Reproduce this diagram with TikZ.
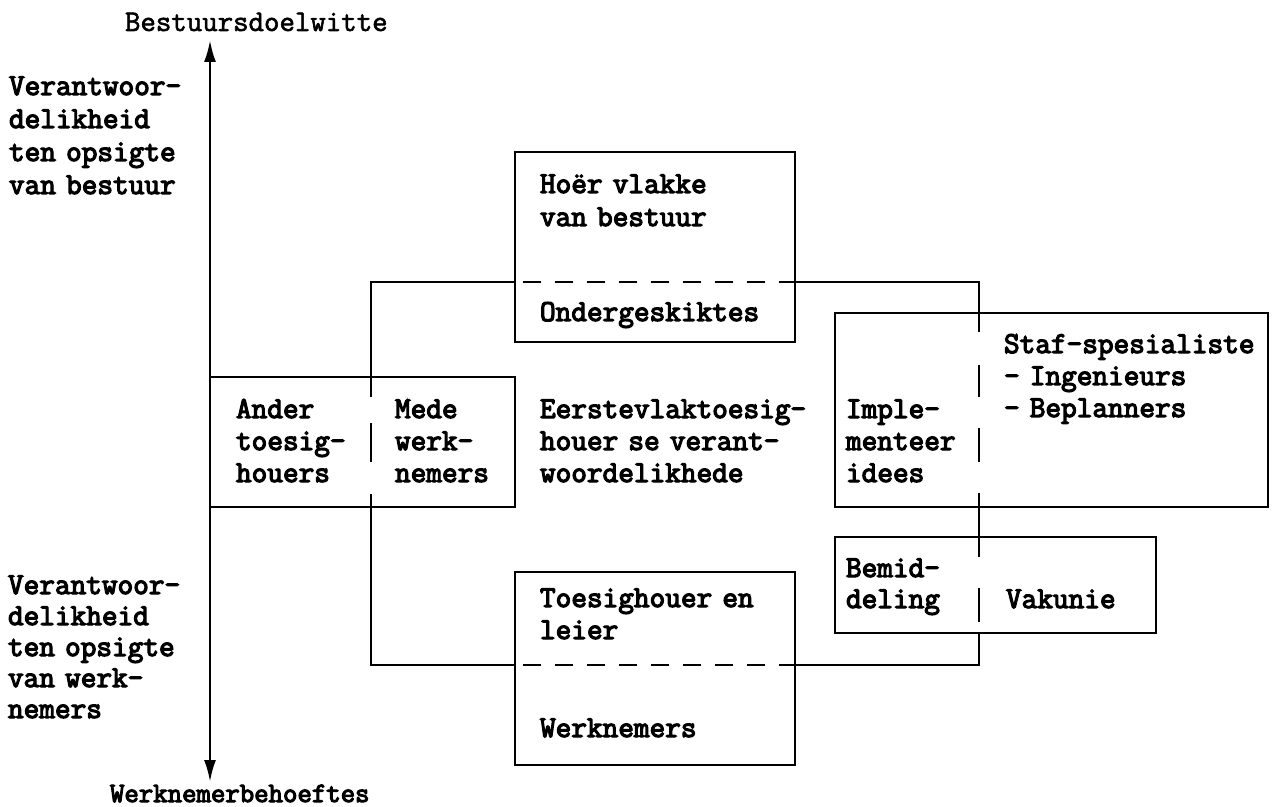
\documentclass[tikz,border=0pt]{standalone}
\usepackage{fontspec}
\usetikzlibrary{arrows.meta}
\newfontfamily\typewriter[FakeBold=4]{Latin Modern Mono}
\newfontfamily\typewriterthin[FakeBold=2]{Latin Modern Mono}
\begin{document}
\begin{tikzpicture}[x=0.5pt, y=-0.5pt, line width=1.3pt,
  >={Latex[length=11pt,width=6pt]},
  box/.style={draw, rectangle, inner sep=0pt, outer sep=0pt, anchor=north west},
  words/.style={anchor=base west, inner sep=0pt, outer sep=0pt, text width=170pt, align=left,
    font=\typewriter\fontsize{15.2}{16}\selectfont},
  loose/.style={font=\typewriter\fontsize{15.2}{16.5}\selectfont},
  tight/.style={font=\typewriter\fontsize{15.2}{15.5}\selectfont},
  heading/.style={anchor=base west, inner sep=0pt, outer sep=0pt},
  printdash/.style={dash pattern=on 9pt off 7pt, dash phase=12pt},
]
\useasboundingbox (0,0) rectangle (1278,807);

% vertical axis with the two poles
\coordinate (axtop) at (210,40);
\coordinate (axbot) at (210,782);
\draw[<->] (axtop) -- (axbot);
\node[heading, font=\typewriterthin\fontsize{15}{16}\selectfont] (goals) at (125,31) {Bestuursdoelwitte};
\node[heading, font=\typewriter\fontsize{14}{16}\selectfont] (needs) at (110,802) {Werknemerbehoeftes};

\node[words, loose] (respup) at (9,95) {Verantwoor-\\delikheid\\ten opsigte\\van bestuur};
\node[words, tight] (respdown) at (8,594)
  {Verantwoor-\\delikheid\\ten opsigte\\van werk-\\nemers};

% boxes
\node[box, minimum width=140pt, minimum height=95pt] (upper) at (515,152) {};
\node[box, minimum width=152.5pt, minimum height=65pt] (side) at (210,377) {};
\node[box, minimum width=216.5pt, minimum height=97pt] (staff) at (835,313) {};
\node[box, minimum width=160.5pt, minimum height=48pt] (mediate) at (835,537) {};
\node[box, minimum width=140pt, minimum height=96.5pt] (lower) at (515,572) {};

% corners of the responsibility loop
\coordinate (ltop) at (371,282);
\coordinate (rtop) at (979,282);
\coordinate (lbot) at (371,665);
\coordinate (rbot) at (979,665);

\draw (upper.west |- ltop) -- (ltop) -- (ltop |- side.north);
\draw[dash pattern=on 10pt off 13pt on 19.5pt off 16pt on 6.5pt off 10pt]
  (ltop |- side.north) -- (ltop |- side.south);
\draw (ltop |- side.south) -- (lbot) -- (lbot -| lower.west);
\draw[printdash] (lbot -| lower.west) -- (lbot -| lower.east);
\draw (lbot -| lower.east) -- (rbot) -- (rbot |- mediate.south);
\draw[dash pattern=on 10pt off 15.5pt on 17pt off 10pt]
  (rbot |- mediate.north) -- (rbot |- mediate.south);
\draw (rbot |- mediate.north) -- (rbot |- staff.south);
\draw[dash pattern=on 9.5pt off 16.5pt on 16pt off 15.5pt on 17pt off 15.5pt on 7pt off 5pt]
  (rtop |- staff.north) -- (rtop |- staff.south);
\draw (rtop |- staff.north) -- (rtop) -- (upper.east |- rtop);
\draw[printdash] (upper.west |- ltop) -- (upper.east |- ltop);

% texts
\node[words, loose] (higher) at (540,193) {Hoër vlakke\\van bestuur};
\node[words] (subord) at (540,321) {Ondergeskiktes};
\node[words] (others) at (236,418) {Ander\\toesig-\\houers};
\node[words] (mates) at (395,418) {Mede\\werk-\\nemers};
\node[words] (duties) at (540,418) {Eerstevlaktoesig-\\houer se verant-\\woordelikhede};
\node[words] (implement) at (846,418) {Imple-\\menteer\\idees};
\node[words] (specialists) at (1004,353) {Staf-spesialiste\\- Ingenieurs\\- Beplanners};
\node[words, tight] (mediation) at (846,577) {Bemid-\\deling};
\node[words] (union) at (1006,608) {Vakunie};
\node[words] (leader) at (540,607) {Toesighouer en\\leier};
\node[words] (workers) at (540,737) {Werknemers};
\end{tikzpicture}
\end{document}
